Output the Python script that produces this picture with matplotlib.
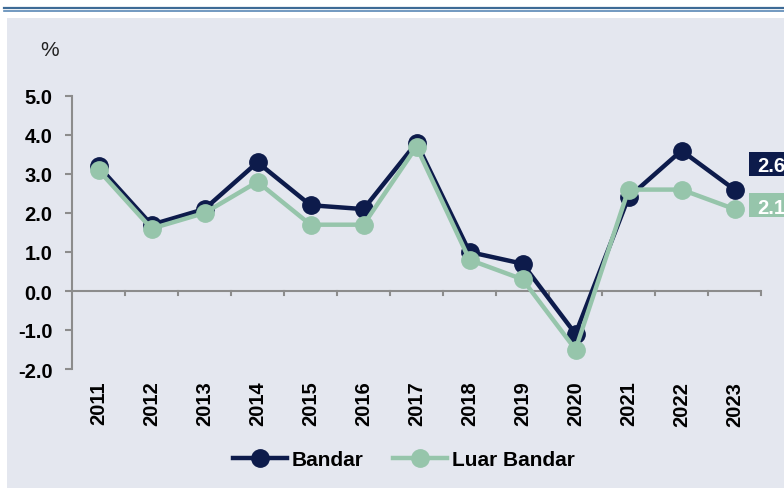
import matplotlib.pyplot as plt
from matplotlib.patches import Rectangle
from matplotlib.lines import Line2D
import matplotlib.transforms as mtransforms
import numpy as np

plt.rcParams['font.family'] = ['Liberation Sans', 'DejaVu Sans']

years = ['2011', '2012', '2013', '2014', '2015', '2016', '2017',
         '2018', '2019', '2020', '2021', '2022', '2023']
bandar = [3.2, 1.7, 2.1, 3.3, 2.2, 2.1, 3.8, 1.0, 0.7, -1.1, 2.4, 3.6, 2.6]
luar_bandar = [3.1, 1.6, 2.0, 2.8, 1.7, 1.7, 3.7, 0.8, 0.3, -1.5, 2.6, 2.6, 2.1]
yticks = [-2.0, -1.0, 0.0, 1.0, 2.0, 3.0, 4.0, 5.0]

navy = '#0D1B4B'
green = '#96C5AB'
bg = '#E4E7EF'
axis_grey = '#8C8C8C'
fs = 14.5

fig = plt.figure(figsize=(7.84, 4.89), dpi=100)
W, H = 784, 489

# background panel and double rule at top
fig.patches.append(Rectangle((7 / W, 0), 1, 1 - 19 / H, transform=fig.transFigure,
                             facecolor=bg, edgecolor='none', zorder=-5))
fig.lines.append(Line2D([4 / W, 1], [1 - 8.5 / H] * 2, transform=fig.transFigure,
                        color='#3E6B96', lw=1.6, zorder=-5))
fig.lines.append(Line2D([4 / W, 1], [1 - 12 / H] * 2, transform=fig.transFigure,
                        color='#5A88B5', lw=1.2, zorder=-5))

ax = fig.add_axes([72 / W, 1 - 370 / H, (761 - 72) / W, (370 - 97) / H])
ax.set_facecolor('none')

x = np.arange(len(years))
ax.plot(x, bandar, color=navy, lw=3.2, marker='o', ms=12.5, label='Bandar', zorder=3)
ax.plot(x, luar_bandar, color=green, lw=3.2, marker='o', ms=12.5, label='Luar Bandar', zorder=4)

ax.set_xlim(-0.5, len(years) - 0.5)
ax.set_ylim(-2, 5)

for s in ['top', 'right', 'bottom']:
    ax.spines[s].set_visible(False)
ax.spines['left'].set_color(axis_grey)
ax.spines['left'].set_linewidth(1.5)
ax.axhline(0, color=axis_grey, lw=1.5, zorder=1)

ax.set_yticks(yticks)
ax.set_yticklabels([f'{v:.1f}' for v in yticks], fontsize=fs, fontweight='bold')
ax.tick_params(axis='y', direction='out', length=5, width=1.5, color=axis_grey, pad=9)

# category boundary ticks on the zero line
ax.set_xticks([])
for b in np.arange(0.5, len(years), 1.0):
    ax.plot([b, b], [0, -0.1], color=axis_grey, lw=1.5, zorder=1, clip_on=False)

for i, yr in enumerate(years):
    ax.text(i, -2.3, yr, rotation=90, ha='center', va='top',
            fontsize=fs, fontweight='bold')

fig.text(50 / W, 1 - 50 / H, '%', fontsize=15, ha='center', va='center', color='#222222')

# end labels (cut at the right edge, as in the source chart)
blend = mtransforms.blended_transform_factory(ax.transAxes, ax.transData)
for val, col, dy in [(bandar[-1], navy, 26), (luar_bandar[-1], green, 4)]:
    box_tr = blend + mtransforms.ScaledTranslation(-12 / 100, (dy - 12) / 100, fig.dpi_scale_trans)
    ax.add_patch(Rectangle((1, val), 0.1, 24 / 39, transform=box_tr, facecolor=col,
                           edgecolor='none', clip_on=False, zorder=5))
    txt_tr = blend + mtransforms.ScaledTranslation(-4 / 100, dy / 100, fig.dpi_scale_trans)
    ax.text(1, val, f'{val:.1f}', transform=txt_tr, ha='left', va='center_baseline',
            fontsize=fs, fontweight='bold', color='white', zorder=6, clip_on=False)

leg = fig.legend(loc='center', bbox_to_anchor=(404 / W, 1 - 461 / H), ncol=2,
                 frameon=False, prop={'size': 15, 'weight': 'bold'},
                 handlelength=2.6, handletextpad=0.25, columnspacing=1.4)

fig.savefig('out.png', dpi=100)
